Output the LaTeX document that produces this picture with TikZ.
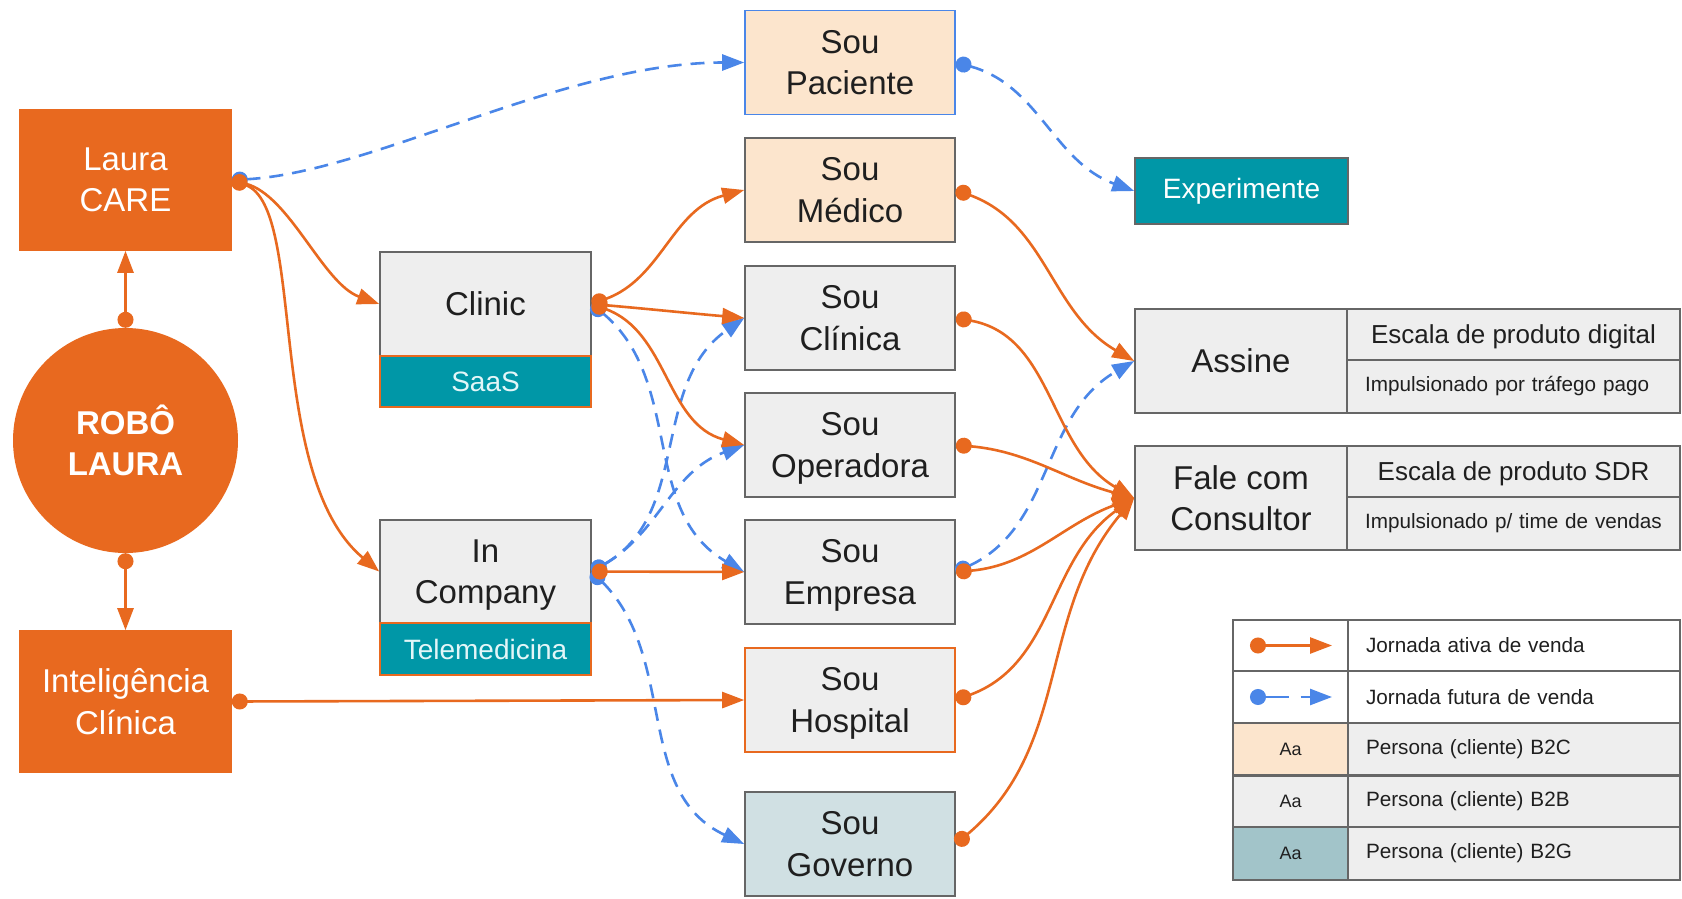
\documentclass[tikz,border=0pt]{standalone}
\usepackage{fontspec}
\setmainfont{Liberation Sans}
\usetikzlibrary{arrows.meta}
\definecolor{lorange}{HTML}{E8691F}
\definecolor{lblue}{HTML}{4A86E8}
\definecolor{lteal}{HTML}{0097A7}
\definecolor{lpeach}{HTML}{FCE5CD}
\definecolor{lgray}{HTML}{EEEEEE}
\definecolor{lborder}{HTML}{666666}
\definecolor{lgov}{HTML}{D0E0E3}
\definecolor{lbtwog}{HTML}{A2C4C9}
\definecolor{ltext}{HTML}{1F1F1F}
\definecolor{lsub}{HTML}{E3F6F8}
\newcommand{\fmain}{\fontsize{33}{41.5}\selectfont}
\newcommand{\fsub}{\fontsize{28}{34}\selectfont}
\newcommand{\fesc}{\fontsize{26}{31}\selectfont}
\newcommand{\fsmall}{\fontsize{20.7}{25}\selectfont}
\newcommand{\ftiny}{\fontsize{18}{22}\selectfont}
\tikzset{
  base/.style={inner sep=0pt, align=center, line width=1.6pt},
  orangebox/.style={base, fill=lorange, draw=lorange, text=white, font=\fmain, minimum width=211pt, minimum height=140pt},
  soubox/.style={base, fill=lgray, draw=lborder, text=ltext, font=\fmain, minimum width=210pt, minimum height=104pt, text depth=0pt},
  tealbar/.style={base, fill=lteal, draw=lorange, text=lsub, font=\fsub, minimum width=211pt, minimum height=51pt},
  cellC/.style={base, fill=lgray, draw=lborder, text=ltext, font=\fesc, minimum width=333pt, text depth=0pt},
  cellL/.style={base, fill=lgray, draw=lborder, text=ltext, font=\fsmall, text width=297pt, inner xsep=18pt, align=left},
  lgL/.style={base, fill=lgray, draw=lborder, text=ltext, font=\ftiny, minimum width=115pt, minimum height=52pt},
  lgR/.style={base, fill=lgray, draw=lborder, text=ltext, font=\fsmall, text width=296pt, inner xsep=18pt, align=left, minimum height=52pt},
  active/.style={draw=lorange, line width=2.6pt, arrows={Circle[length=16pt]-Triangle[length=22pt,width=16pt]}},
  future/.style={draw=lblue, line width=2.6pt, dash pattern=on 14pt off 9pt, arrows={Circle[length=16pt]-Triangle[length=22pt,width=16pt]}}
}
\begin{document}
\begin{tikzpicture}[x=1pt,y=-1pt]
\useasboundingbox (0,0) rectangle (1682,898);
\fill[white] (0,0) rectangle (1682,898);

% left column
\node[orangebox] (care) at (125.5,180) {Laura\\CARE};
\node[circle, fill=lorange, minimum size=225pt, inner sep=0pt, text=white, font=\fmain\bfseries, align=center] (robo) at (125.5,440.5) {ROBÔ\\LAURA};
\node[orangebox, minimum height=141pt] (intel) at (125.5,701.5) {Inteligência\\Clínica};

% products
\node[soubox, minimum width=211pt] (clinic) at (485.5,304) {Clinic};
\node[tealbar] (saas) at (485.5,381.5) {SaaS};
\node[soubox, minimum width=211pt, minimum height=103pt] (incomp) at (485.5,571.5) {In\\Company};
\node[tealbar, minimum height=52pt] (tele) at (485.5,649) {Telemedicina};

% personas
\node[soubox, fill=lpeach, draw=lblue] (pac) at (850,62.5) {Sou\\Paciente};
\node[soubox, fill=lpeach] (med) at (850,190) {Sou\\Médico};
\node[soubox] (cli) at (850,318) {Sou\\Clínica};
\node[soubox] (ope) at (850,445) {Sou\\Operadora};
\node[soubox] (emp) at (850,572) {Sou\\Empresa};
\node[soubox, draw=lorange] (hosp) at (850,700) {Sou\\Hospital};
\node[soubox, fill=lgov] (gov) at (850,844) {Sou\\Governo};

% outcomes
\node[base, fill=lteal, draw=lborder, text=white, font=\fsub, minimum width=213pt, minimum height=66pt] (exp) at (1241.5,191) {Experimente};
\node[soubox, minimum width=212pt] (assine) at (1241,361) {Assine};
\node[cellC, minimum height=51pt] (a1) at (1513.5,334.5) {Escala de produto digital};
\node[cellL, minimum height=53pt] (a2) at (1513.5,386.5) {Impulsionado por tráfego pago};
\node[soubox, minimum width=212pt] (fale) at (1241,498) {Fale com\\Consultor};
\node[cellC, minimum height=51pt] (f1) at (1513.5,471.5) {Escala de produto SDR};
\node[cellL, minimum height=53pt] (f2) at (1513.5,523.5) {Impulsionado p/ time de vendas};

% legend
\node[lgL, fill=white, minimum height=51pt] (k1) at (1290.5,645.5) {};
\node[lgR, fill=white, minimum height=51pt] (t1) at (1514,645.5) {Jornada ativa de venda};
\node[lgL, fill=white] (k2) at (1290.5,697) {};
\node[lgR, fill=white] (t2) at (1514,697) {Jornada futura de venda};
\node[lgL, fill=lpeach] (k3) at (1290.5,749) {Aa};
\node[lgR] (t3) at (1514,749) {Persona (cliente) B2C};
\node[lgL] (k4) at (1290.5,801) {Aa};
\node[lgR] (t4) at (1514,801) {Persona (cliente) B2B};
\node[lgL, fill=lbtwog, minimum height=53pt] (k5) at (1290.5,853.5) {Aa};
\node[lgR, minimum height=53pt] (t5) at (1514,853.5) {Persona (cliente) B2G};
\draw[line width=3pt, draw=lborder] (k3.south west) -- (t3.south east);
\coordinate (k1a) at (1250,645.5);
\coordinate (k1b) at (1332,645.5);
\coordinate (k2a) at (1250,697);
\coordinate (k2b) at (1332,697);
\draw[active] (k1a) -- (k1b);
\draw[future, dash pattern=on 24pt off 12pt] (k2a) -- (k2b);

% future connectors
\draw[future] (care.east) to[out=3,in=180,out distance=140pt,in distance=180pt] (pac.west);
\draw[future] (pac.east) to[out=-15,in=160] (exp.west);
\draw[future] (clinic.east) to[out=-40,in=150] (emp.west);
\draw[future] (incomp.east) to[out=30,in=215] (cli.west);
\draw[future] (incomp.east) to[out=30,in=200] (ope.west);
\draw[future] (incomp.east) to[out=-45,in=155] (gov.west);
\draw[future] (emp.east) to[out=25,in=210] (assine.west);

% active connectors
\draw[active] (robo.north) -- (care.south);
\draw[active] (robo.south) -- (intel.north);
\draw[active] (care.east) to[out=-15,in=160,out distance=60pt,in distance=60pt] (clinic.west);
\draw[active] (care.east) to[out=-20,in=140,out distance=80pt,in distance=150pt] (incomp.west);
\draw[active] (intel.east) -- (hosp.west);
\draw[active] (clinic.east) to[out=20,in=195] (med.west);
\draw[active] (clinic.east) to[out=-5,in=175] (cli.west);
\draw[active] (clinic.east) to[out=-20,in=165] (ope.west);
\draw[active] (incomp.east) -- (emp.west);
\draw[active] (med.east) to[out=-20,in=150] (assine.west);
\draw[active] (cli.east) to[out=-10,in=150] (fale.west);
\draw[active] (ope.east) to[out=-5,in=165] (fale.west);
\draw[active] (emp.east) to[out=5,in=200] (fale.west);
\draw[active] (hosp.east) to[out=20,in=215] (fale.west);
\draw[active] (gov.east) to[out=40,in=230] (fale.west);
\end{tikzpicture}
\end{document}
